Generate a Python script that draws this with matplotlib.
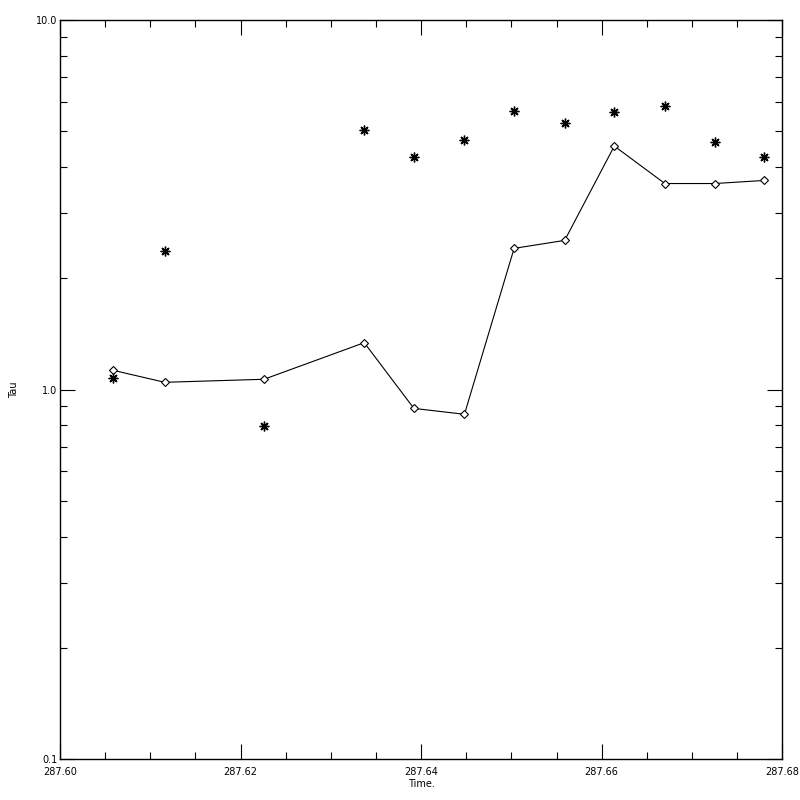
import numpy as np
import matplotlib
matplotlib.use("Agg")
import matplotlib.pyplot as plt
from matplotlib.ticker import MultipleLocator, LogLocator, FormatStrFormatter, NullFormatter

# time of each sample
time = [287.6059, 287.6116, 287.6226, 287.6337, 287.6392, 287.6448,
        287.6503, 287.6559, 287.6614, 287.6670, 287.6725, 287.6780]
# tau, connected line with diamonds
tau_line = [1.127, 1.046, 1.066, 1.339, 0.889, 0.857,
            2.41, 2.533, 4.56, 3.61, 3.61, 3.68]
# tau, asterisks only
tau_star = [1.072, 2.376, 0.796, 5.03, 4.25, 4.73,
            5.66, 5.25, 5.63, 5.84, 4.69, 4.27]

fig = plt.figure(figsize=(8, 8), dpi=100)
ax = fig.add_axes([0.075, 0.05125, 0.9028, 0.9237])

ax.plot(time, tau_line, color="black", linewidth=0.8, marker="D",
        markersize=4, markerfacecolor="white", markeredgecolor="black",
        markeredgewidth=0.8)
ax.plot(time, tau_star, linestyle="none", marker=(8, 2, 0), markersize=7,
        color="black", markeredgewidth=1.0)

ax.set_yscale("log")
ax.set_xlim(287.60, 287.68)
ax.set_ylim(0.1, 10.0)

ax.xaxis.set_major_locator(MultipleLocator(0.02))
ax.xaxis.set_minor_locator(MultipleLocator(0.005))
ax.xaxis.set_major_formatter(FormatStrFormatter("%.2f"))
ax.yaxis.set_major_locator(LogLocator(base=10))
ax.yaxis.set_minor_locator(LogLocator(base=10, subs=np.arange(2, 10)))
ax.yaxis.set_major_formatter(FormatStrFormatter("%.1f"))
ax.yaxis.set_minor_formatter(NullFormatter())

ax.tick_params(which="both", direction="in", top=True, right=True,
               labelsize=7, width=0.8, color="black")
ax.tick_params(which="major", length=11)
ax.tick_params(which="minor", length=5)
ax.tick_params(axis="x", pad=6)
ax.tick_params(axis="y", pad=2)

for s in ax.spines.values():
    s.set_linewidth(1.0)

ax.set_xlabel("Time.", fontsize=7, labelpad=1)
ax.set_ylabel("Tau", fontsize=7, labelpad=12)

fig.savefig("out.png", dpi=100)
